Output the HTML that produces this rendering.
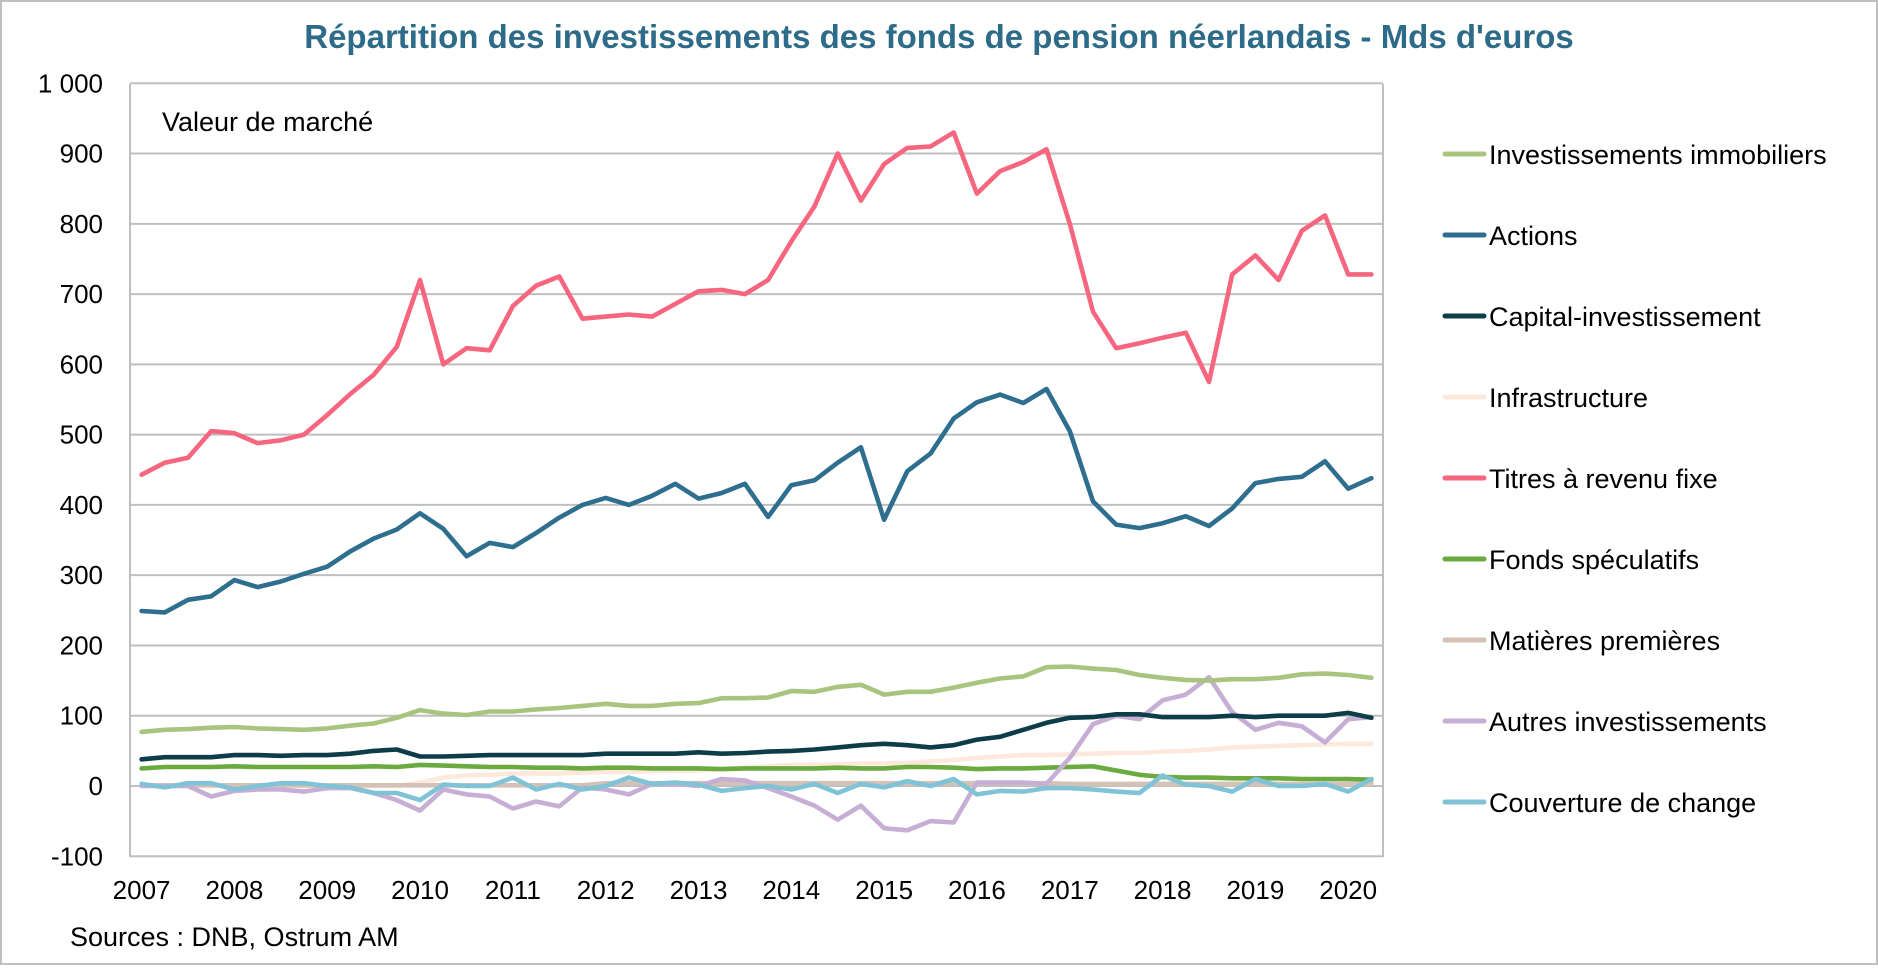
<!DOCTYPE html>
<html><head><meta charset="utf-8"><style>
html,body{margin:0;padding:0;background:#fff}
svg text{font-family:"Liberation Sans",sans-serif}
</style></head><body>
<svg id="c" width="1878" height="965" viewBox="0 0 1878 965" xmlns="http://www.w3.org/2000/svg">
<rect x="1" y="1" width="1876" height="963" fill="#fff" stroke="#bfbfbf" stroke-width="2"/>
<text x="939" y="48" text-anchor="middle" font-size="33" font-weight="bold" fill="#2e6b88">Répartition des investissements des fonds de pension néerlandais - Mds d'euros</text>
<g id="grid"></g>
<text x="162" y="131" font-size="27">Valeur de marché</text>
<g id="ylab" font-size="26" text-anchor="end"></g>
<g id="xlab" font-size="26" text-anchor="middle"></g>
<g id="series" fill="none" stroke-width="4.6" stroke-linejoin="round" stroke-linecap="round"></g>
<text x="70" y="946" font-size="27">Sources : DNB, Ostrum AM</text>
<g id="leg" font-size="27"></g>
</svg>
<script>
var L=130,R=1383,top0=84,bot=857;
function Y(v){return 786-v*(bot-top0)/1100;}
var n=54,cw=(R-L)/n;function X(i){return L+(i+0.5)*cw;}
var ns="http://www.w3.org/2000/svg";
function el(t,a,p,txt){var e=document.createElementNS(ns,t);for(var k in a)e.setAttribute(k,a[k]);if(txt!==undefined)e.textContent=txt;document.getElementById(p).appendChild(e);return e;}
for(var v=-100;v<=1000;v+=100){el("line",{x1:L,x2:R,y1:Y(v),y2:Y(v),stroke:"#bfbfbf","stroke-width":2},"grid");
el("text",{x:103,y:Y(v)+9},"ylab",v==1000?"1 000":String(v));}
el("line",{x1:L,x2:L,y1:top0,y2:bot,stroke:"#bfbfbf","stroke-width":2},"grid");
el("line",{x1:R,x2:R,y1:top0,y2:bot,stroke:"#bfbfbf","stroke-width":2},"grid");
for(var y=0;y<14;y++)el("text",{x:X(y*4),y:899},"xlab",String(2007+y));
var infra=[0,0,0,0,0,0,0,0,0,0,0,0,5,12,15,16,18,18,18,19,20,20,21,22,22,24,26,28,30,30,31,32,32,33,35,37,40,42,44,44,45,46,47,47,49,50,52,55,56,57,58,59,60,60];
var mat=[];for(var i=0;i<n;i++)mat.push(i<20?1:(i<40?4:3));
var S=[
["#fde9dc",infra],
["#d5c2b6",mat],
["#6aaa3e",[25,27,27,27,28,27,27,27,27,27,28,27,30,29,28,27,27,26,26,25,26,26,25,25,25,24,25,25,25,25,26,25,25,27,27,26,24,25,25,26,27,28,22,16,13,12,12,11,11,11,10,10,10,9]],
["#c7aed4",[0,0,0,-15,-7,-5,-5,-8,-3,-3,-10,-20,-35,-5,-12,-15,-32,-22,-29,-2,-5,-12,3,3,0,10,8,-3,-15,-28,-48,-28,-60,-63,-50,-52,5,5,5,3,40,88,100,95,122,130,155,105,80,90,85,62,95,98]],
["#80c2d6",[3,-2,4,4,-5,0,4,4,0,-2,-10,-10,-20,2,0,0,12,-5,3,-5,0,12,3,5,2,-7,-3,0,-5,3,-10,3,-2,7,0,10,-12,-7,-8,-3,-3,-5,-8,-10,15,2,0,-8,10,0,0,3,-8,10]],
["#a9c47f",[77,80,81,83,84,82,81,80,82,86,89,97,108,103,101,106,106,109,111,114,117,114,114,117,118,125,125,126,135,134,141,144,130,134,134,140,147,153,156,169,170,167,165,158,154,151,150,152,152,154,159,160,158,154]],
["#0e3d4a",[38,41,41,41,44,44,43,44,44,46,50,52,42,42,43,44,44,44,44,44,46,46,46,46,48,46,47,49,50,52,55,58,60,58,55,58,66,70,80,90,97,98,102,102,98,98,98,100,98,100,100,100,104,97]],
["#2e6e8e",[249,247,265,270,293,283,291,302,312,334,352,365,388,366,327,346,340,360,382,400,410,400,413,430,409,417,430,383,428,435,460,482,379,448,473,523,546,557,545,565,505,405,372,367,374,384,370,395,431,437,440,462,423,438]],
["#f7667f",[443,460,467,505,502,488,492,500,528,558,585,625,720,600,623,620,683,712,725,665,668,671,668,686,704,706,700,720,775,825,900,833,885,908,910,930,843,875,888,906,800,675,623,630,638,645,575,728,755,720,790,812,728,728]]
];
S.forEach(function(s){el("polyline",{points:s[1].map(function(v,i){return X(i).toFixed(1)+","+Y(v).toFixed(1)}).join(" "),stroke:s[0]},"series");});
var leg=[["#a9c47f","Investissements immobiliers"],["#2e6e8e","Actions"],["#0e3d4a","Capital-investissement"],["#fde9dc","Infrastructure"],["#f7667f","Titres à revenu fixe"],["#6aaa3e","Fonds spéculatifs"],["#d5c2b6","Matières premières"],["#c7aed4","Autres investissements"],["#80c2d6","Couverture de change"]];
leg.forEach(function(l,i){var y=154+i*81;el("line",{x1:1445,x2:1484,y1:y,y2:y,stroke:l[0],"stroke-width":5,"stroke-linecap":"round"},"leg");el("text",{x:1489,y:y+10},"leg",l[1]);});
</script>
</body></html>
